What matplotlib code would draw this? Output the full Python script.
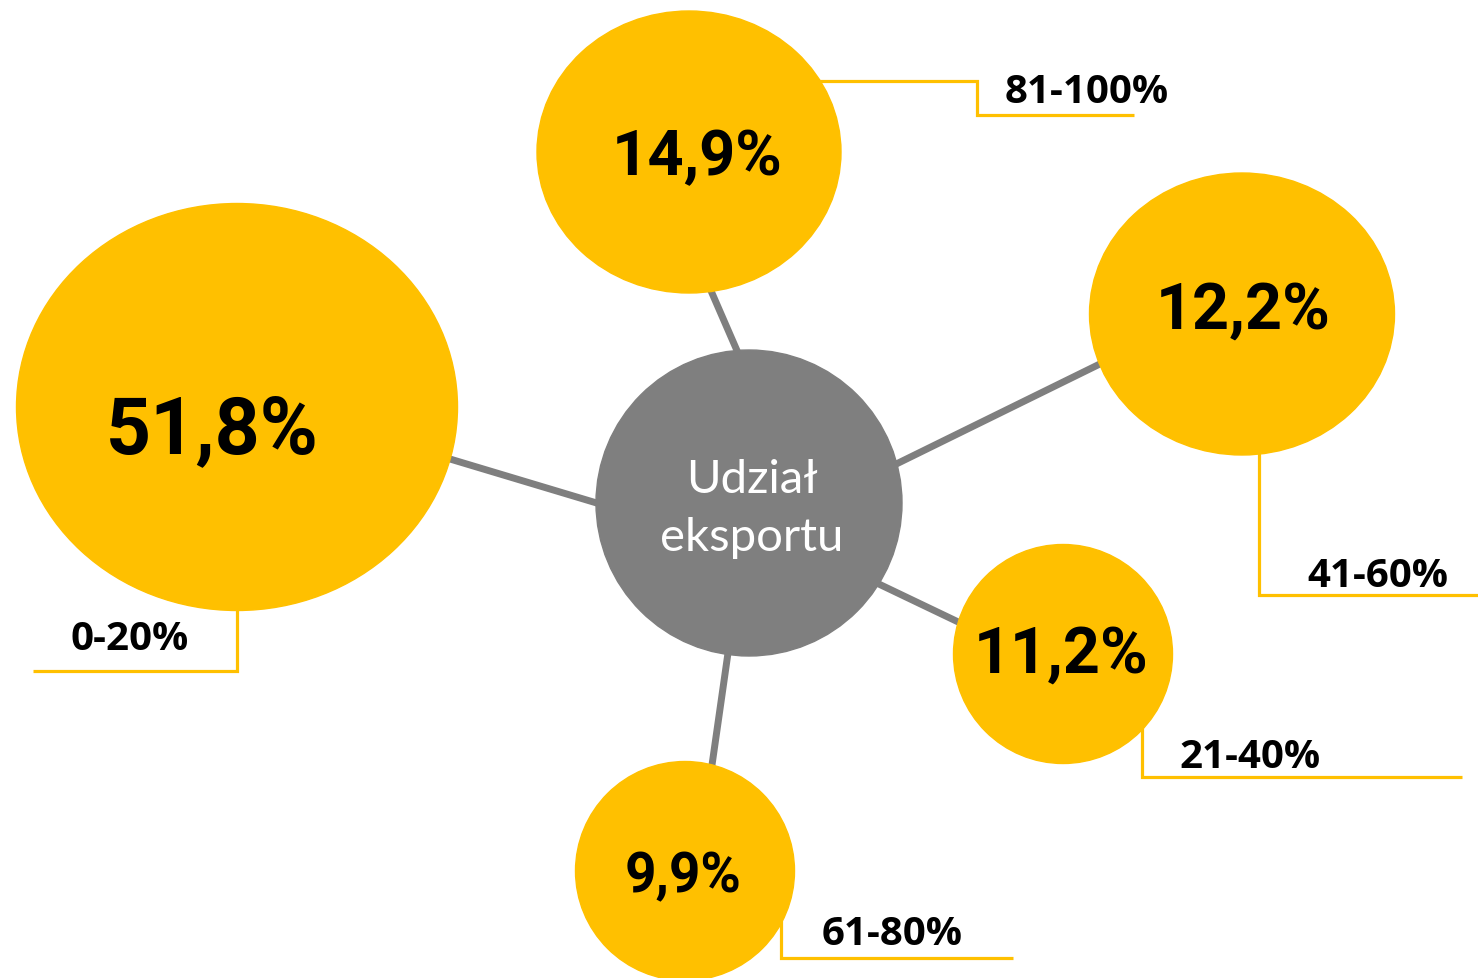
"""Udział eksportu - bubble diagram (export share by range)."""

import matplotlib
matplotlib.use("Agg")
import matplotlib.pyplot as plt
from matplotlib.patches import Ellipse

# data
ranges = ["0-20%", "81-100%", "41-60%", "21-40%", "61-80%"]
shares = [51.8, 14.9, 12.2, 11.2, 9.9]
center_label = ["Udział", "eksportu"]

YELLOW = "#FFC000"
GRAY = "#7F7F7F"

# layout (pixel coordinates, y grows downwards)
bubble_xy = [(237, 408), (689, 153), (1242, 315), (1063, 655), (685, 872)]
bubble_wh = [(441, 407), (304, 282), (305, 282), (219, 219), (219, 219)]
value_xy = [(212, 453), (697, 175), (1243, 329), (1061, 673), (683, 892)]
value_size = [56, 45, 46, 46, 39]
label_xy = [(70, 650), (1005, 103), (1307, 587), (1179, 768), (822, 945)]
callouts = [
    [(237, 450), (237, 672), (33, 672)],
    [(760, 82), (977, 82), (977, 116), (1134, 116)],
    [(1259, 350), (1259, 596), (1478, 596)],
    [(1142, 700), (1142, 778), (1462, 778)],
    [(781, 900), (781, 959), (1013, 959)],
]
connectors = [
    [(440, 457), (620, 511)],
    [(705, 278), (745, 370)],
    [(1110, 360), (880, 473)],
    [(860, 576), (975, 631)],
    [(730, 640), (710, 780)],
]
hub_xy, hub_d = (749, 504), 306

fig = plt.figure(figsize=(14.78, 9.79), dpi=100)
ax = fig.add_axes([0, 0, 1, 1])
ax.set_xlim(0, 1478)
ax.set_ylim(979, 0)
ax.axis("off")

for seg in connectors:
    xs, ys = zip(*seg)
    ax.plot(xs, ys, color=GRAY, lw=5, solid_capstyle="butt", zorder=1)

for path in callouts:
    xs, ys = zip(*path)
    ax.plot(xs, ys, color=YELLOW, lw=2.3, solid_joinstyle="miter",
            solid_capstyle="butt", zorder=1)

ax.add_patch(Ellipse(hub_xy, hub_d, hub_d, color=GRAY, zorder=2))
ax.text(752, 493, center_label[0], ha="center", va="baseline", color="white",
        fontsize=34, family="Lato", zorder=3)
ax.text(752, 551, center_label[1], ha="center", va="baseline", color="white",
        fontsize=34, family="Lato", zorder=3)

for i, val in enumerate(shares):
    ax.add_patch(Ellipse(bubble_xy[i], *bubble_wh[i], color=YELLOW, zorder=2))
    txt = f"{val:.1f}%".replace(".", ",")
    ax.text(*value_xy[i], txt, ha="center", va="baseline", color="black",
            fontsize=value_size[i] / 0.711 * 0.72, fontweight="bold",
            family="Roboto", zorder=3)
    ax.text(*label_xy[i], ranges[i], ha="left", va="baseline", color="black",
            fontsize=29, fontweight="bold", family="Open Sans", zorder=3)

fig.savefig("out.png", dpi=100, facecolor="white")
